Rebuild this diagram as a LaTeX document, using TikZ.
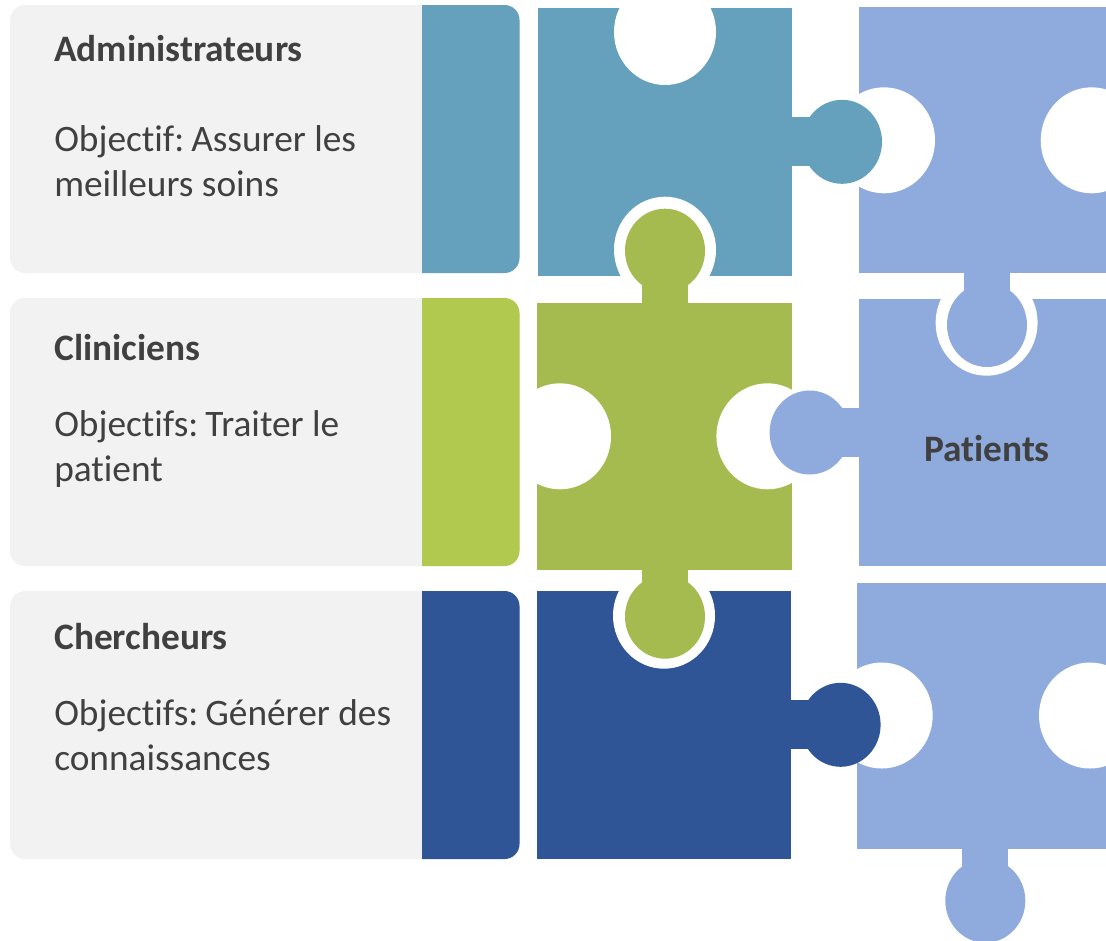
\documentclass[tikz,border=0pt]{standalone}
\usepackage{fontspec}
\setmainfont[RawFeature={-liga;-dlig;-clig}]{Carlito}
\definecolor{tealp}{HTML}{65A1BC}
\definecolor{greenp}{HTML}{A6BB4F}
\definecolor{greens}{HTML}{B0C94E}
\definecolor{bluep}{HTML}{2F5597}
\definecolor{perip}{HTML}{8FAADC}
\definecolor{cardbg}{HTML}{F2F2F2}
\definecolor{inkc}{HTML}{404040}
\newcommand{\pzhole}[2]{\fill[white] (#1,#2) ellipse [x radius=51,y radius=53];}
\newcommand{\pzknob}[3]{\fill[#1] (#2,#3) ellipse [x radius=40,y radius=42];}
\newcommand{\csp}{\kern-1.1pt\ }
\tikzset{
  title/.style={font=\fontsize{28}{33}\selectfont\bfseries, text=inkc, anchor=base west, inner sep=0pt},
  body/.style={font=\fontsize{28}{33.75}\selectfont, text=inkc, anchor=base west, inner sep=0pt, align=left},
  cardbox/.style={fill=cardbg, rounded corners=11.25pt},
  stripe/.style={rounded corners=11.25pt}
}
\begin{document}
\begin{tikzpicture}[x=0.75pt,y=-0.75pt]
\useasboundingbox (0,0) rectangle (1106,940);
\clip (0,0) rectangle (1106,940);
% blue piece
\fill[bluep] (536.8,591.3) rectangle (791.3,859);
\pzhole{664}{615.7}
\fill[bluep] (790,700.3) rectangle (812,749);
% lower periwinkle piece
\fill[perip] (857.4,583) rectangle (1106,849);
\pzhole{881.7}{715.5}
\pzhole{1090}{715.5}
\fill[perip] (962,848) rectangle (1008.4,870);
\pzknob{perip}{985.3}{900.7}
\pzknob{bluep}{840.6}{724.8}
% teal piece
\fill[tealp] (537.6,8.3) rectangle (792.4,275.7);
\pzhole{665}{32}
\pzhole{665}{249.7}
% green piece
\fill[greenp] (536.8,302.7) rectangle (792.4,570);
\pzhole{560}{436.3}
\pzhole{767.4}{436.3}
\fill[greenp] (641.8,280) rectangle (688.2,304);
\pzknob{greenp}{665}{250.7}
\fill[greenp] (641.5,569) rectangle (688,590);
\pzknob{greenp}{665}{616.7}
% middle periwinkle piece
\fill[perip] (859.3,298.7) rectangle (1106,566);
\pzhole{986.6}{322.7}
\fill[perip] (838,407.7) rectangle (860,456.7);
\pzknob{perip}{809.6}{432.5}
% upper periwinkle piece
\fill[perip] (859.3,7.3) rectangle (1106,273.3);
\pzhole{884}{140.3}
\pzhole{1091.7}{140.3}
\fill[perip] (964,272) rectangle (1010.3,295);
\pzknob{perip}{987}{325}
% teal knob above the periwinkle hole
\fill[tealp] (791,117.3) rectangle (813,165.7);
\pzknob{tealp}{842}{141.8}
% cards
\fill[cardbox] (10,5) rectangle (519.5,273);
\fill[tealp, stripe] (422,5) -- (519.5,5) -- (519.5,273) -- (422,273);
\fill[cardbox] (10,298) rectangle (519.5,566);
\fill[greens, stripe] (422,298) -- (519.5,298) -- (519.5,566) -- (422,566);
\fill[cardbox] (10,591) rectangle (519.5,859);
\fill[bluep, stripe] (422,591) -- (519.5,591) -- (519.5,859) -- (422,859);
% texts
\node[title] (t1) at (54,61.4) {Administrateurs};
\node[body] (b1) at (54,196.4) {Objectif:\csp Assurer les\\meilleurs soins};
\node[title] (t2) at (54,360.7) {Cliniciens};
\node[body] (b2) at (54,481.7) {Objectifs:\csp Traiter le\\patient};
\node[title] (t3) at (54,649.7) {Chercheurs};
\node[body] (b3) at (54,770.7) {Objectifs:\csp Générer des\\connaissances};
\node[title, anchor=base] (p) at (987,461.7) {Patients};
\end{tikzpicture}
\end{document}
